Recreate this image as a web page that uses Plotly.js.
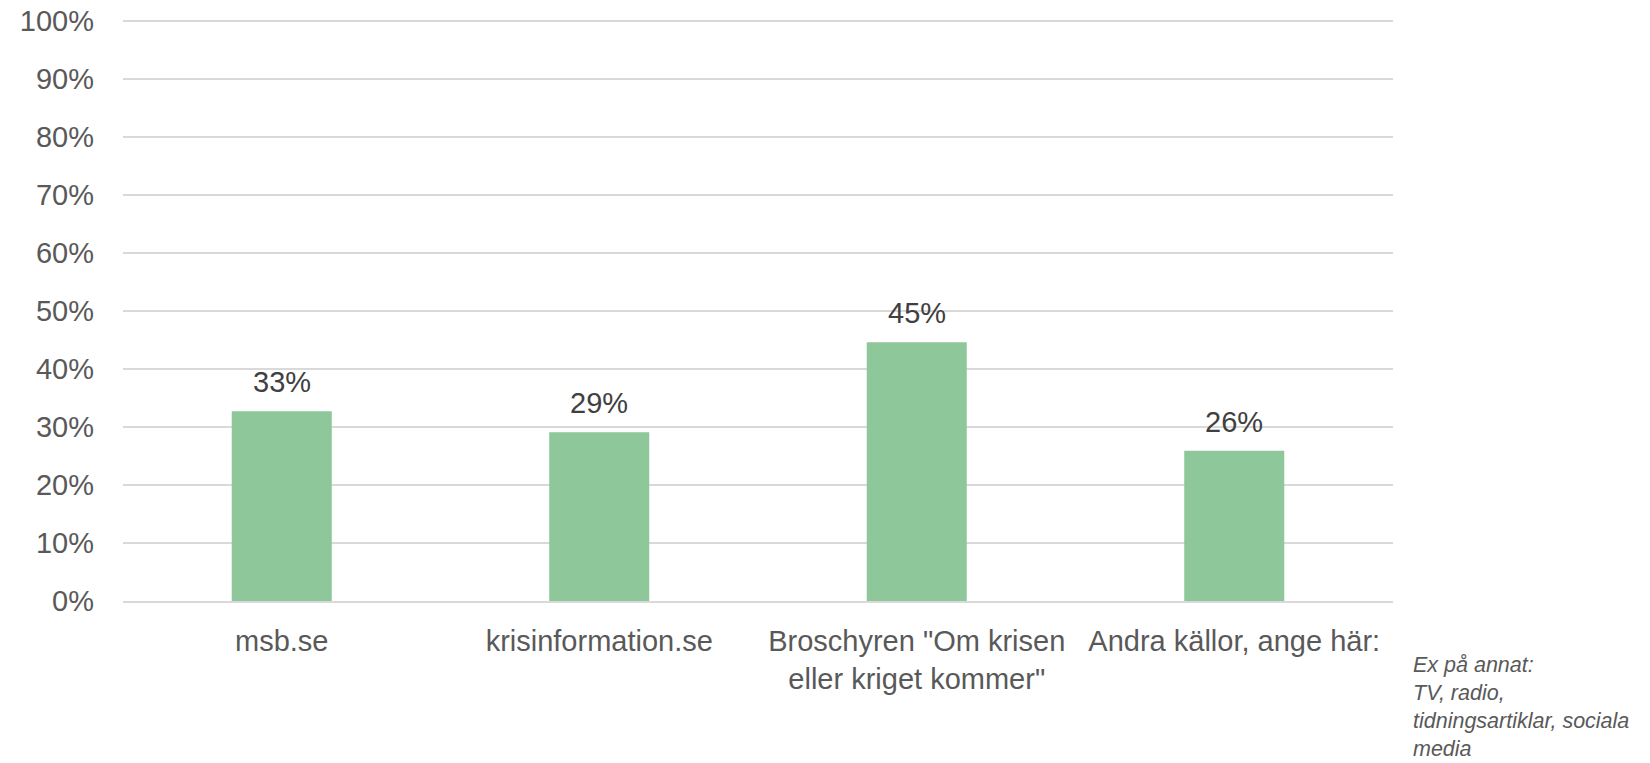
<!DOCTYPE html>
<html>
<head>
<meta charset="utf-8">
<script src="https://cdn.plot.ly/plotly-3.0.1.min.js"></script>
<style>
  html, body { margin: 0; padding: 0; background: #ffffff; }
  #chart { width: 1650px; height: 763px; }
</style>
</head>
<body>
<div id="chart"></div>
<script>
// Data
const categories = [
  'msb.se',
  'krisinformation.se',
  'Broschyren "Om krisen<br>eller kriget kommer"',
  'Andra källor, ange här:'
];
const values = [32.7, 29.1, 44.6, 25.9];
const valueLabels = ['33%', '29%', '45%', '26%'];
const tickValues = [0, 10, 20, 30, 40, 50, 60, 70, 80, 90, 100];
const tickLabels = ['0%', '10%', '20%', '30%', '40%', '50%', '60%', '70%', '80%', '90%', '100%'];
const noteLines = ['Ex på annat:', 'TV, radio,', 'tidningsartiklar, sociala', 'media'];

const FONT = '"Liberation Sans", Arial, sans-serif';

const trace = {
  type: 'bar',
  x: categories,
  y: values,
  width: 0.315,
  marker: { color: '#8ec79a', line: { width: 0 } },
  hoverinfo: 'x+y'
};

const annotations = categories.map((c, i) => ({
  x: c,
  y: values[i],
  xref: 'x',
  yref: 'y',
  text: valueLabels[i],
  showarrow: false,
  xanchor: 'center',
  yanchor: 'bottom',
  yshift: 11,
  font: { family: FONT, size: 29, color: '#404040' }
}));

annotations.push({
  xref: 'paper',
  yref: 'paper',
  x: 1.0142,
  y: -0.085,
  xanchor: 'left',
  yanchor: 'top',
  align: 'left',
  showarrow: false,
  text: '<i>' + noteLines.join('<br>') + '</i>',
  font: { family: FONT, size: 21.5, color: '#595959' }
});

const layout = {
  width: 1650,
  height: 763,
  margin: { l: 123, r: 257, t: 18, b: 161.5, pad: 0 },
  paper_bgcolor: '#ffffff',
  plot_bgcolor: '#ffffff',
  showlegend: false,
  bargap: 0.685,
  font: { family: FONT, size: 29, color: '#595959' },
  xaxis: {
    type: 'category',
    showgrid: false,
    showline: true,
    linecolor: '#d9d9d9',
    linewidth: 1.5,
    ticks: '',
    ticklabelstandoff: 14,
    tickfont: { family: FONT, size: 29, color: '#595959' },
    zeroline: false,
    fixedrange: true
  },
  yaxis: {
    range: [0, 100.5],
    tickmode: 'array',
    tickvals: tickValues,
    ticktext: tickLabels,
    showgrid: true,
    gridcolor: '#d9d9d9',
    gridwidth: 1.5,
    zeroline: false,
    showline: false,
    ticks: '',
    ticklabelstandoff: 28,
    tickfont: { family: FONT, size: 29, color: '#595959' },
    fixedrange: true
  },
  annotations: annotations
};

Plotly.newPlot('chart', [trace], layout, { displayModeBar: false, staticPlot: true });
</script>
</body>
</html>
